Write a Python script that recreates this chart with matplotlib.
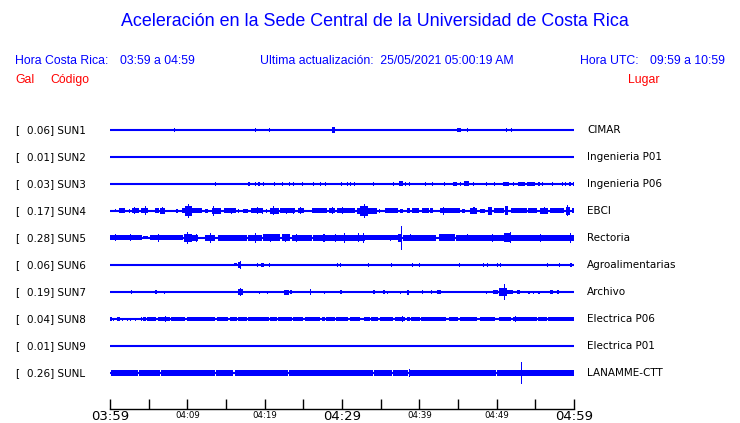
import matplotlib
matplotlib.use("Agg")
import matplotlib.pyplot as plt
import matplotlib.transforms as mtransforms

# ---------------- data ----------------
title = "Aceleración en la Sede Central de la Universidad de Costa Rica"
hora_cr = "03:59 a 04:59"
hora_utc = "09:59 a 10:59"
actualizacion = "25/05/2021 05:00:19 AM"

codes = ["SUN1", "SUN2", "SUN3", "SUN4", "SUN5", "SUN6", "SUN7", "SUN8", "SUN9", "SUNL"]
peaks = [0.06, 0.01, 0.03, 0.17, 0.28, 0.06, 0.19, 0.04, 0.01, 0.26]
places = ["CIMAR", "Ingenieria P01", "Ingenieria P06", "EBCI", "Rectoria",
          "Agroalimentarias", "Archivo", "Electrica P06", "Electrica P01", "LANAMME-CTT"]

tick_minutes = list(range(0, 61, 5))
tick_labels = ["", "", "04:09", "", "04:19", "", "", "", "04:39", "", "04:49", "", ""]
big_minutes = [0, 30, 60]
big_labels = ["03:59", "04:29", "04:59"]

# bursts per trace: (start minute, end minute, half amplitude in trace units)
sun1 = [(8.3, 8.3, 2), (18.7, 18.7, 2), (20.5, 20.5, 2), (28.7, 29.1, 3),
        (44.9, 45.35, 2), (46.1, 46.1, 2), (51.2, 51.2, 2), (51.9, 51.9, 2)]
sun2 = []
sun3 = [(13.6, 13.6, 2), (17.9, 17.9, 2), (18.8, 18.8, 2), (19.2, 19.2, 2), (19.8, 19.8, 2),
        (21.2, 21.2, 2), (22.2, 22.2, 2), (23.2, 23.2, 2), (23.6, 23.6, 2), (24.8, 24.8, 2),
        (26.2, 26.2, 2), (27.2, 27.2, 2), (27.8, 27.8, 2), (29.9, 29.9, 2), (30.6, 30.6, 2),
        (31.0, 31.0, 2), (31.6, 31.6, 2), (34.0, 34.0, 2), (36.6, 36.6, 2), (37.4, 37.9, 2.5),
        (38.2, 38.2, 2), (38.7, 38.7, 2), (40.7, 40.7, 2), (41.6, 41.6, 2), (43.2, 43.2, 2),
        (44.4, 44.9, 2), (45.3, 45.3, 2), (45.8, 46.4, 2.5), (46.9, 46.9, 2), (48.6, 48.6, 2),
        (49.6, 49.6, 2), (50.8, 51.6, 2), (52.1, 52.3, 2), (52.8, 53.7, 2), (53.9, 55.0, 2),
        (55.4, 55.4, 2), (55.8, 55.8, 2), (57.2, 57.2, 2), (58.4, 58.4, 2), (58.8, 58.8, 2),
        (59.3, 59.6, 2), (59.9, 59.9, 2)]
sun4 = [(0.6, 0.6, 1.5), (1.1, 1.9, 2.5), (2.5, 2.5, 2), (2.9, 3.7, 2.5), (3.1, 3.2, 3.5),
        (4.0, 4.9, 2.5), (4.5, 4.5, 4.5), (5.8, 6.3, 2.5), (6.5, 7.1, 3), (6.7, 6.7, 3.5),
        (8.5, 8.8, 2), (9.3, 11.9, 2.5), (9.7, 10.6, 5), (10.1, 10.1, 7), (12.3, 12.7, 2),
        (13.2, 14.4, 3), (13.3, 13.3, 5), (14.8, 16.3, 2.5), (15.6, 15.6, 3), (16.5, 16.5, 2),
        (17.2, 17.9, 2), (18.2, 19.8, 2.5), (19.0, 19.0, 3.5), (19.6, 19.6, 3), (20.2, 20.2, 2),
        (20.7, 21.8, 3), (21.1, 21.1, 4.5), (22.0, 23.9, 2.5), (22.8, 22.8, 3), (23.6, 23.6, 3),
        (24.3, 25.1, 2.5), (24.6, 24.6, 3.5), (26.1, 28.0, 2.5), (28.3, 29.1, 2.5), (28.7, 28.7, 3.5),
        (29.3, 31.7, 2.5), (30.0, 30.0, 3.5), (31.9, 34.5, 3), (32.3, 33.4, 5), (32.8, 32.8, 7),
        (34.8, 34.8, 2), (35.6, 37.3, 2.5), (37.5, 37.9, 2), (38.4, 38.8, 2.5), (39.0, 39.9, 2.5),
        (40.4, 41.2, 2.5), (41.4, 41.8, 2.5), (42.7, 45.3, 2.5), (43.1, 43.1, 4), (45.5, 45.9, 2),
        (46.6, 47.5, 3), (47.0, 47.0, 3.5), (47.8, 48.5, 2), (48.9, 49.4, 4), (49.6, 50.9, 2.5),
        (51.1, 51.5, 4.5), (51.9, 53.9, 2.5), (54.1, 55.2, 2.5), (55.6, 56.7, 3), (56.1, 56.1, 3.5),
        (56.9, 58.7, 2.5), (59.0, 59.5, 4), (59.1, 59.1, 5.5), (59.7, 60.0, 2.5)]
sun5 = [(0.0, 4.1, 2.5), (0.6, 0.6, 3.5), (2.6, 2.6, 3.5), (4.3, 4.9, 1.5), (5.2, 9.5, 2.5),
        (6.2, 6.2, 4), (9.6, 10.6, 4), (9.9, 9.9, 6), (10.6, 11.4, 3), (11.1, 11.1, 4),
        (12.3, 13.6, 3), (12.9, 12.9, 5), (14.0, 17.7, 3), (17.9, 19.6, 3), (18.8, 18.8, 5),
        (19.8, 22.0, 3.5), (20.7, 20.7, 4), (22.2, 23.3, 3.5), (22.6, 22.6, 4), (23.5, 26.1, 3),
        (24.1, 24.1, 4), (26.3, 31.0, 3), (27.6, 27.6, 4), (29.1, 29.1, 4), (30.2, 30.2, 5),
        (31.0, 33.0, 3), (32.1, 32.1, 4.5), (32.7, 32.7, 5), (33.0, 37.5, 2.5), (36.2, 36.2, 3),
        (37.3, 37.7, 4), (37.6, 37.6, 12), (37.9, 42.2, 3), (38.8, 38.8, 3.5), (42.5, 44.6, 3.5),
        (44.8, 51.3, 3), (46.1, 46.1, 3.5), (49.4, 49.4, 4), (50.9, 51.9, 4.5), (51.7, 51.7, 5.5),
        (51.9, 60.0, 3), (55.6, 55.6, 4), (59.5, 59.5, 5)]
sun6 = [(16.0, 16.4, 1.5), (16.5, 17.0, 3), (16.8, 16.8, 4), (19.0, 19.0, 2), (19.5, 19.9, 2),
        (20.6, 20.6, 2), (29.3, 29.3, 2), (29.7, 29.7, 2), (33.3, 33.3, 2), (36.3, 36.3, 2),
        (39.0, 39.0, 2), (39.9, 39.9, 2), (45.1, 45.1, 2), (48.2, 48.4, 2), (48.7, 48.7, 2),
        (50.0, 50.0, 2), (50.4, 50.4, 2), (56.5, 56.5, 2), (58.0, 58.0, 2), (59.5, 59.7, 2)]
sun7 = [(2.7, 2.7, 2), (5.8, 6.1, 2), (7.0, 7.0, 1.5), (16.5, 17.2, 3), (16.8, 16.8, 4),
        (19.3, 19.3, 1.5), (20.3, 20.3, 1.5), (22.5, 23.1, 2.5), (23.3, 23.5, 2), (25.8, 25.8, 3),
        (27.7, 27.7, 1.5), (29.7, 30.0, 2), (34.0, 34.3, 2), (35.3, 35.6, 2), (35.8, 35.8, 1.5),
        (37.5, 37.5, 1.5), (38.4, 38.7, 2.5), (40.3, 40.3, 2), (41.5, 41.5, 2), (42.3, 42.8, 2),
        (48.6, 48.6, 1.5), (49.5, 50.2, 2), (50.3, 51.3, 4), (50.9, 50.9, 8), (51.3, 52.1, 2),
        (52.6, 53.0, 2), (54.0, 54.0, 1.5), (54.2, 54.2, 1.5), (54.7, 54.7, 1.5), (55.4, 55.4, 1.5),
        (56.9, 57.3, 2), (57.8, 58.1, 2)]
sun8 = [(0.0, 0.2, 2), (0.4, 0.4, 1.5), (0.9, 1.3, 2), (1.5, 1.5, 1.5), (2.2, 2.2, 1.5),
        (2.6, 2.6, 1.5), (3.2, 3.2, 1.5), (4.0, 4.2, 2), (4.3, 4.6, 2), (4.8, 6.0, 2),
        (6.2, 7.8, 2), (7.1, 7.1, 3), (7.9, 9.7, 2), (9.9, 13.6, 2), (13.8, 15.3, 2),
        (15.5, 16.4, 2), (16.6, 17.7, 2), (17.8, 20.5, 2), (20.7, 21.6, 2), (21.7, 23.5, 2),
        (23.7, 25.0, 2), (25.2, 27.2, 2), (27.4, 27.8, 2), (27.9, 29.1, 2), (29.2, 30.8, 2),
        (31.0, 32.3, 2), (32.8, 33.6, 2), (33.8, 34.7, 2), (34.9, 36.6, 2), (36.9, 38.1, 2),
        (37.7, 37.7, 3), (38.4, 38.8, 2), (38.9, 40.1, 2), (40.2, 43.5, 2), (43.9, 45.0, 2),
        (45.3, 47.4, 2), (47.8, 49.8, 2), (50.3, 51.9, 2), (52.1, 52.6, 2), (52.4, 52.4, 3),
        (52.6, 55.2, 2), (55.4, 56.5, 2), (56.7, 60.0, 2)]
sun9 = []
sunl = [(0.1, 3.6, 3), (3.7, 6.5, 3), (6.6, 13.55, 3), (13.65, 15.9, 3), (16.1, 23.0, 3),
        (23.1, 34.0, 3), (34.1, 36.45, 3), (36.55, 38.55, 3), (38.6, 38.6, 4), (38.65, 49.95, 3),
        (50.05, 60.0, 3), (53.1, 53.1, 11)]
bursts = [sun1, sun2, sun3, sun4, sun5, sun6, sun7, sun8, sun9, sunl]

# ---------------- drawing ----------------
BLUE = "#0000ff"
RED = "#ff0000"
W, H = 740, 423
fig = plt.figure(figsize=(W / 100, H / 100), dpi=100)

ROW_PX = 27.0
ax_left, ax_right, ax_top, ax_bot = 110, 574, 103, 409
ax = fig.add_axes([ax_left / W, 1 - ax_bot / H, (ax_right - ax_left) / W, (ax_bot - ax_top) / H])
ax.set_xlim(0, 60)
ax.set_ylim(-(ax_bot - 130) / ROW_PX, 1)

for i, (code, pk, place, br) in enumerate(zip(codes, peaks, places, bursts)):
    y0 = -i
    ax.plot([0, 60], [y0, y0], color=BLUE, lw=1.5, solid_capstyle="butt")
    for s, e, a in br:
        w = max(e - s, 0.14)
        h = a / ROW_PX
        ax.bar(s, 2 * h, width=w, bottom=y0 - h, align="edge", color=BLUE, linewidth=0)
    ypx = 130 + i * ROW_PX
    fig.text(15 / W, 1 - ypx / H, "[", fontsize=7.5, va="center", ha="left", color="black")
    fig.text(27 / W, 1 - ypx / H, f"{pk:.2f}] {code}", fontsize=7.5, va="center", ha="left", color="black")
    fig.text(587 / W, 1 - ypx / H, place, fontsize=7.5, va="center", ha="left", color="black")

for sp in ["top", "left", "right"]:
    ax.spines[sp].set_visible(False)
ax.spines["bottom"].set_linewidth(1.0)
ax.set_yticks([])
ax.set_xticks(tick_minutes)
ax.set_xticklabels(tick_labels, fontsize=6.2)
ax.tick_params(axis="x", direction="in", length=7, width=1.0, pad=1.5, colors="black")

# large hour labels, placed by baseline so they stay inside the canvas
trans = mtransforms.blended_transform_factory(ax.transData, fig.transFigure)
for m, lab in zip(big_minutes, big_labels):
    ax.text(m, 1 - 420 / H, lab, transform=trans, fontsize=9.5, ha="center",
            va="baseline", color="black", clip_on=False)

# header texts
hf = "Liberation Sans"
fs = 8.8
fig.text(375 / W, 1 - 22 / H, title, fontsize=12.9, family=hf, color=BLUE, ha="center", va="center")
fig.text(15 / W, 1 - 61 / H, "Hora Costa Rica:", fontsize=fs, family=hf, color=BLUE, va="center")
fig.text(120 / W, 1 - 61 / H, hora_cr, fontsize=fs, family=hf, color=BLUE, va="center")
fig.text(260 / W, 1 - 61 / H, "Ultima actualización:  " + actualizacion, fontsize=fs, family=hf,
         color=BLUE, va="center")
fig.text(580 / W, 1 - 61 / H, "Hora UTC:", fontsize=fs, family=hf, color=BLUE, va="center")
fig.text(650 / W, 1 - 61 / H, hora_utc, fontsize=fs, family=hf, color=BLUE, va="center")
fig.text(15 / W, 1 - 80 / H, "Gal", fontsize=fs, family=hf, color=RED, va="center")
fig.text(50 / W, 1 - 80 / H, "Código", fontsize=fs, family=hf, color=RED, va="center")
fig.text(628 / W, 1 - 80 / H, "Lugar", fontsize=fs, family=hf, color=RED, va="center")

fig.savefig("out.png", dpi=100)
